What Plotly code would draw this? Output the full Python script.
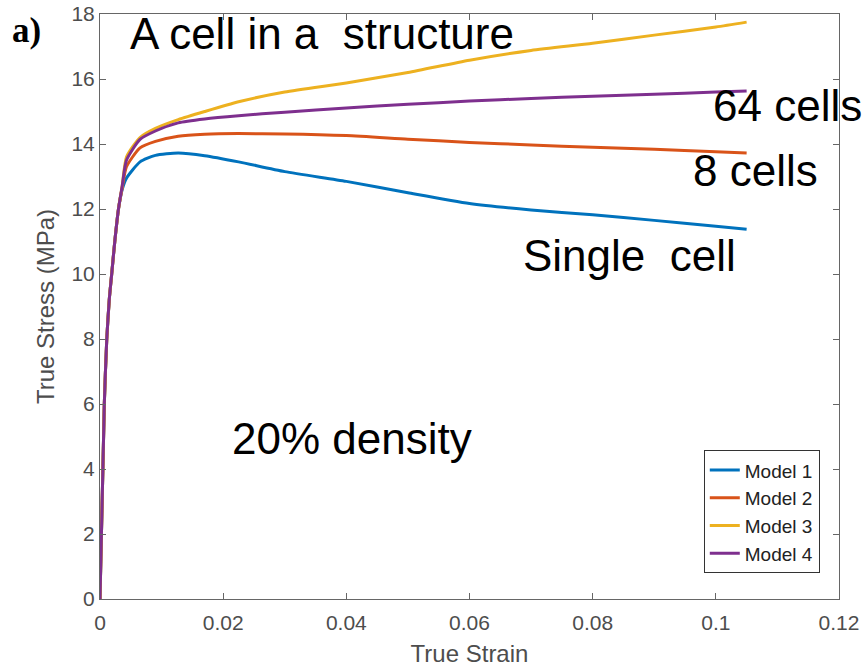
import plotly.graph_objects as go

# True strain (shared by all models)
strain = [0, 0.0007, 0.0011, 0.0015, 0.0019, 0.0024, 0.003, 0.0036, 0.0043,
          0.0065, 0.009, 0.0127, 0.017, 0.0225, 0.03, 0.04, 0.05, 0.06,
          0.07, 0.08, 0.09, 0.1, 0.105]

# True stress (MPa)
model1 = [0, 6, 8, 9.2, 10, 11, 12, 12.6, 12.95,
          13.45, 13.65, 13.72, 13.64, 13.45, 13.15, 12.85, 12.5, 12.17,
          11.97, 11.82, 11.65, 11.47, 11.38]
model2 = [0, 6, 8, 9.2, 10, 11, 12, 12.65, 13.3,
          13.88, 14.08, 14.24, 14.3, 14.32, 14.31, 14.26, 14.15, 14.05,
          13.97, 13.9, 13.84, 13.76, 13.72]
model3 = [0, 6, 8, 9.2, 10, 11, 12, 12.7, 13.6,
          14.2, 14.48, 14.75, 15.0, 15.3, 15.6, 15.88, 16.2, 16.58,
          16.88, 17.1, 17.35, 17.6, 17.75]
model4 = [0, 6, 8, 9.2, 10, 11, 12, 12.7, 13.5,
          14.14, 14.4, 14.65, 14.77, 14.87, 14.98, 15.11, 15.22, 15.32,
          15.4, 15.47, 15.53, 15.6, 15.63]

series_names = ["Model 1", "Model 2", "Model 3", "Model 4"]
series_values = [model1, model2, model3, model4]
colors = ["#0072BD", "#D95319", "#EDB120", "#7E2F8E"]

x_ticks = [0, 0.02, 0.04, 0.06, 0.08, 0.1, 0.12]
x_tick_labels = ["0", "0.02", "0.04", "0.06", "0.08", "0.1", "0.12"]
y_ticks = [0, 2, 4, 6, 8, 10, 12, 14, 16, 18]

# annotation texts with their anchor (strain, stress)
notes = ["A cell in a\u00a0 structure", "64 cells", "8 cells",
         "Single\u00a0 cell", "20% density"]
note_x = [0.0045, 0.0992, 0.096, 0.0684, 0.0211]
note_y = [17.4, 15.17, 13.18, 10.57, 4.95]

fig = go.Figure()
for name, vals, col in zip(series_names, series_values, colors):
    fig.add_trace(go.Scatter(
        x=strain, y=vals, name=name, mode="lines",
        line=dict(color=col, width=3, shape="spline", smoothing=0.6),
    ))

axis_col = "#666666"
txt_col = "#4d4d4d"
tick_font = dict(family="Liberation Sans, Arial", size=21, color=txt_col)
title_font = dict(family="Liberation Sans, Arial", size=24, color=txt_col)
fig.update_xaxes(
    range=[0, 0.12], tickvals=x_ticks, ticktext=x_tick_labels,
    ticks="inside", ticklen=6, tickcolor=axis_col, tickwidth=1,
    showline=True, linecolor=axis_col, linewidth=1, mirror="ticks",
    showgrid=False, zeroline=False, tickfont=tick_font, automargin=False,
    ticklabelstandoff=5, ticklabeloverflow="allow",
    title=dict(text="True Strain", font=title_font, standoff=13),
)
fig.update_yaxes(
    range=[0, 18], tickvals=y_ticks,
    ticks="inside", ticklen=6, tickcolor=axis_col, tickwidth=1,
    showline=True, linecolor=axis_col, linewidth=1, mirror="ticks",
    showgrid=False, zeroline=False, tickfont=tick_font, automargin=False,
    ticklabeloverflow="allow",
    title=dict(text="True Stress (MPa)", font=title_font, standoff=10),
)

for t, xv, yv in zip(notes, note_x, note_y):
    fig.add_annotation(x=xv, y=yv, xref="x", yref="y", text=t, showarrow=False,
                       xanchor="left", yanchor="middle",
                       font=dict(family="Liberation Sans, Arial", size=44, color="black"))

fig.add_annotation(x=-0.122, y=0.972, xref="paper", yref="paper", text="<b>a)</b>",
                   showarrow=False, xanchor="left", yanchor="middle",
                   font=dict(family="Liberation Serif, Times New Roman", size=35, color="black"))

fig.update_layout(
    width=867, height=667,
    margin=dict(l=100, r=28, t=14, b=68),
    paper_bgcolor="white", plot_bgcolor="white",
    legend=dict(x=0.974, y=0.044, xanchor="right", yanchor="bottom",
                bordercolor="#333333", borderwidth=1, bgcolor="white",
                font=dict(family="Liberation Sans, Arial", size=19, color="#222222"),
                tracegroupgap=0, itemwidth=30),
    showlegend=True,
)

fig.write_html("out.html", config={"displayModeBar": False},
               post_script="document.body.style.margin='0';")
